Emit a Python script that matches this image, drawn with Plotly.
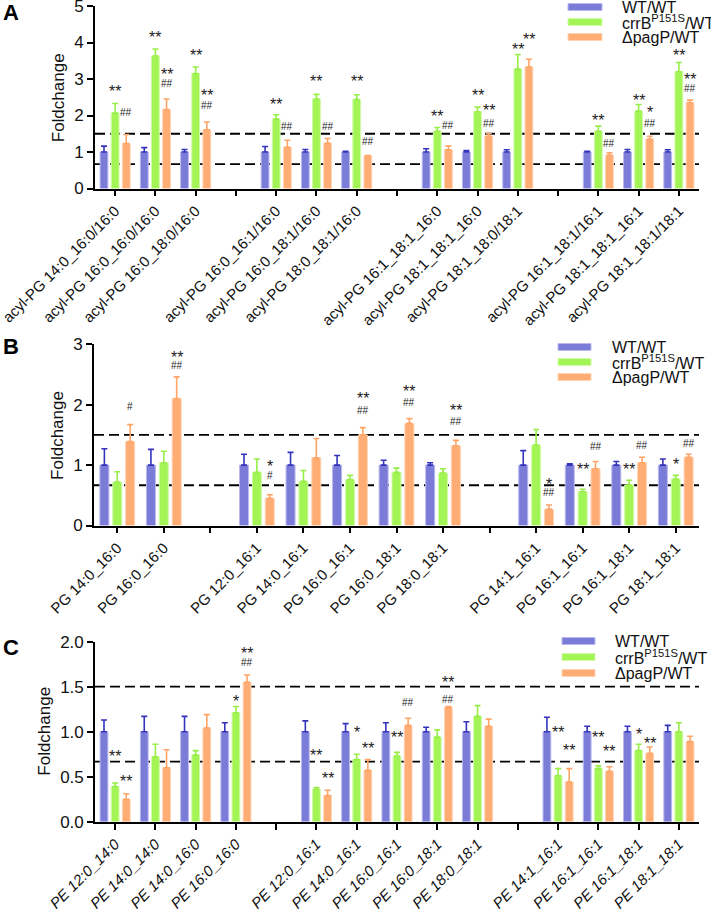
import plotly.graph_objects as go

# ---- panel A: acyl-PG ----
A_labels = ["acyl-PG 14:0_16:0/16:0", "acyl-PG 16:0_16:0/16:0", "acyl-PG 16:0_18:0/16:0", "",
            "acyl-PG 16:0_16:1/16:0", "acyl-PG 16:0_18:1/16:0", "acyl-PG 18:0_18:1/16:0", "",
            "acyl-PG 16:1_18:1_16:0", "acyl-PG 18:1_18:1_16:0", "acyl-PG 18:1_18:0/18:1", "",
            "acyl-PG 16:1_18:1/16:1", "acyl-PG 18:1_18:1_16:1", "acyl-PG 18:1_18:1/18:1"]
A_wt = [1, 1, 1, None, 1, 1, 1, None, 1, 1, 1, None, 1, 1, 1]
A_wt_err = [0.16, 0.12, 0.07, None, 0.15, 0.07, 0.02, None, 0.09, 0.04, 0.06, None, 0.02, 0.07, 0.06]
A_crr = [2.07, 3.63, 3.15, None, 1.9, 2.45, 2.44, None, 1.57, 2.1, 3.27, None, 1.57, 2.12, 3.2]
A_crr_err = [0.26, 0.19, 0.18, None, 0.12, 0.13, 0.13, None, 0.1, 0.13, 0.4, None, 0.14, 0.18, 0.25]
A_pag = [1.23, 2.16, 1.61, None, 1.13, 1.24, 0.89, None, 1.06, 1.43, 3.33, None, 0.91, 1.35, 2.35]
A_pag_err = [0.25, 0.29, 0.21, None, 0.19, 0.13, 0.01, None, 0.1, 0.07, 0.21, None, 0.07, 0.08, 0.07]
# (slot, series 1=crrB 2=pagP, height, mark)
A_marks = [(0, 1, 2.77, "**"), (0, 2, 2.07, "##"),
           (1, 1, 4.25, "**"), (1, 2, 3.22, "**"), (1, 2, 2.88, "##"),
           (2, 1, 3.74, "**"), (2, 2, 2.65, "**"), (2, 2, 2.28, "##"),
           (4, 1, 2.42, "**"), (4, 2, 1.70, "##"),
           (5, 1, 3.03, "**"), (5, 2, 1.70, "##"),
           (6, 1, 3.03, "**"), (6, 2, 1.30, "##"),
           (8, 1, 2.08, "**"), (8, 2, 1.73, "##"),
           (9, 1, 2.65, "**"), (9, 2, 2.25, "**"), (9, 2, 1.79, "##"),
           (10, 1, 3.93, "**"), (10, 2, 4.2, "**"),
           (12, 1, 1.98, "**"), (12, 2, 1.23, "##"),
           (13, 1, 2.53, "**"), (13, 2, 2.19, "*"), (13, 2, 1.79, "##"),
           (14, 1, 3.74, "**"), (14, 2, 3.1, "**"), (14, 2, 2.74, "##")]

# ---- panel B: PG ----
B_labels = ["PG 14:0_16:0", "PG 16:0_16:0", "",
            "PG 12:0_16:1", "PG 14:0_16:1", "PG 16:0_16:1", "PG 16:0_18:1", "PG 18:0_18:1", "",
            "PG 14:1_16:1", "PG 16:1_16:1", "PG 16:1_18:1", "PG 18:1_18:1"]
B_wt = [1, 1, None, 1, 1, 1, 1, 1, None, 1, 1, 1, 1]
B_wt_err = [0.27, 0.26, None, 0.18, 0.21, 0.16, 0.08, 0.04, None, 0.24, 0.02, 0.06, 0.1]
B_crr = [0.72, 1.04, None, 0.88, 0.73, 0.76, 0.88, 0.87, None, 1.33, 0.56, 0.67, 0.77]
B_crr_err = [0.17, 0.19, None, 0.22, 0.18, 0.07, 0.07, 0.07, None, 0.26, 0.04, 0.08, 0.06]
B_pag = [1.39, 2.1, None, 0.45, 1.12, 1.5, 1.69, 1.32, None, 0.27, 0.94, 1.04, 1.13]
B_pag_err = [0.28, 0.36, None, 0.06, 0.32, 0.12, 0.08, 0.09, None, 0.07, 0.12, 0.09, 0.05]
B_marks = [(0, 2, 1.97, "#"),
           (1, 2, 2.85, "**"), (1, 2, 2.65, "##"),
           (3, 2, 1.05, "*"), (3, 2, 0.83, "#"),
           (5, 2, 2.17, "**"), (5, 2, 1.9, "##"),
           (6, 2, 2.29, "**"), (6, 2, 2.03, "##"),
           (7, 2, 1.97, "**"), (7, 2, 1.72, "##"),
           (9, 2, 0.75, "*"), (9, 2, 0.54, "##"),
           (10, 1, 1.0, "**"), (10, 2, 1.3, "##"),
           (11, 1, 1.0, "**"), (11, 2, 1.33, "##"),
           (12, 1, 1.08, "*"), (12, 2, 1.36, "##")]

# ---- panel C: PE ----
C_labels = ["PE 12:0_14:0", "PE 14:0_14:0", "PE 14:0_16:0", "PE 16:0_16:0", "",
            "PE 12:0_16:1", "PE 14:0_16:1", "PE 16:0_16:1", "PE 16:0_18:1", "PE 18:0_18:1", "",
            "PE 14:1_16:1", "PE 16:1_16:1", "PE 16:1_18:1", "PE 18:1_18:1"]
C_wt = [1, 1, 1, 1, None, 1, 1, 1, 1, 1, None, 1, 1, 1, 1]
C_wt_err = [0.13, 0.17, 0.17, 0.1, None, 0.12, 0.09, 0.1, 0.05, 0.11, None, 0.16, 0.06, 0.06, 0.07]
C_crr = [0.39, 0.72, 0.74, 1.21, None, 0.36, 0.69, 0.73, 0.94, 1.17, None, 0.51, 0.59, 0.79, 1.0]
C_crr_err = [0.04, 0.14, 0.05, 0.07, None, 0.02, 0.06, 0.04, 0.08, 0.12, None, 0.08, 0.03, 0.07, 0.1]
C_pag = [0.25, 0.6, 1.04, 1.55, None, 0.29, 0.57, 1.07, 1.27, 1.06, None, 0.44, 0.56, 0.76, 0.89]
C_pag_err = [0.06, 0.2, 0.15, 0.08, None, 0.06, 0.12, 0.08, 0.01, 0.08, None, 0.15, 0.05, 0.07, 0.06]
C_marks = [(0, 1, 0.77, "**"), (0, 2, 0.49, "**"),
           (3, 1, 1.38, "*"), (3, 2, 1.91, "**"), (3, 2, 1.77, "##"),
           (5, 1, 0.78, "**"), (5, 2, 0.53, "**"),
           (6, 1, 1.04, "*"), (6, 2, 0.86, "**"),
           (7, 1, 0.98, "**"), (7, 2, 1.32, "##"),
           (8, 2, 1.59, "**"), (8, 2, 1.36, "##"),
           (11, 1, 1.04, "**"), (11, 2, 0.84, "**"),
           (12, 1, 0.98, "**"), (12, 2, 0.83, "**"),
           (13, 1, 1.01, "*"), (13, 2, 0.91, "**")]

series_names = ["WT/WT", "crrB<sup>P151S</sup>/WT", "ΔpagP/WT"]
fills = ["#7b7bd8", "#a2f555", "#ffad74"]
edges = ["#b9b9ef", "#d2fba8", "#ffd4b4"]
err_cols = ["#3333bb", "#96ee46", "#ffa465"]

W, H = 711, 917
FONT = "Arial, Liberation Sans, sans-serif"
BARGAP = 0.17
OFF = (1 - BARGAP) / 3


def px_x(v):
    return v / W


def px_y(v):
    return 1 - v / H


# pixel geometry of each panel: (x0, x1, y_bottom, y_top)
panels = [
    dict(labels=A_labels, vals=[A_wt, A_crr, A_pag], errs=[A_wt_err, A_crr_err, A_pag_err],
         marks=A_marks, yr=[0, 5], dtick=1, fmt="d", box=(95, 699, 188.5, 6),
         letter="A", letter_y=12, lab_x=58, leg=(568, 602, [7, 22, 37], 620), italic=False),
    dict(labels=B_labels, vals=[B_wt, B_crr, B_pag], errs=[B_wt_err, B_crr_err, B_pag_err],
         marks=B_marks, yr=[0, 3], dtick=1, fmt="d", box=(94, 699, 525.5, 344.3),
         letter="B", letter_y=346.5, lab_x=58, leg=(558, 591, [347, 362, 377], 610), italic=False),
    dict(labels=C_labels, vals=[C_wt, C_crr, C_pag], errs=[C_wt_err, C_crr_err, C_pag_err],
         marks=C_marks, yr=[0, 2], dtick=0.5, fmt=".1f", box=(95, 699, 821.7, 641.7),
         letter="C", letter_y=647, lab_x=45, leg=(562, 595, [641, 657, 673], 613), italic=True),
]

fig = go.Figure()
layout = dict(width=W, height=H, autosize=False, margin=dict(l=0, r=0, t=0, b=0, autoexpand=False),
              paper_bgcolor="white", plot_bgcolor="white", showlegend=False,
              barmode="group", bargap=BARGAP, bargroupgap=0.3,
              font=dict(family=FONT, color="#111"))
shapes = []
annots = []

for p_i, p in enumerate(panels):
    sfx = "" if p_i == 0 else str(p_i + 1)
    xa, ya = "x" + sfx, "y" + sfx
    n = len(p["labels"])
    slots = list(range(n))
    x0, x1, yb, yt = p["box"]

    for k in range(3):
        fig.add_trace(go.Bar(
            x=slots, y=p["vals"][k], name=series_names[k], xaxis=xa, yaxis=ya,
            marker=dict(color=fills[k], line=dict(color=edges[k], width=1)),
            error_y=dict(type="data", array=p["errs"][k], arrayminus=[0] * n, symmetric=False,
                         color=err_cols[k], thickness=1.6, width=3),
            hoverinfo="skip",
        ))

    ticktext = [("<i>%s</i>" % t if (p["italic"] and t) else t) for t in p["labels"]]
    layout["xaxis" + sfx] = dict(
        domain=[px_x(x0), px_x(x1)], anchor=ya, range=[-0.5, n - 0.5], automargin=False,
        ticklabeloverflow="allow",
        tickmode="array", tickvals=slots, ticktext=ticktext, tickangle=-45,
        ticks="outside", ticklen=6, tickwidth=1.6, tickcolor="black",
        showline=True, linecolor="black", linewidth=1.6, showgrid=False, zeroline=False,
        tickfont=dict(size=15, family=FONT, color="#111"),
    )
    layout["yaxis" + sfx] = dict(
        domain=[px_y(yb), px_y(yt)], anchor=xa, range=p["yr"], dtick=p["dtick"], automargin=False,
        ticklabeloverflow="allow",
        tickformat=p["fmt"], ticks="outside", ticklen=6, tickwidth=1.6, tickcolor="black",
        showline=True, linecolor="black", linewidth=1.6, showgrid=False, zeroline=False,
        tickfont=dict(size=17, family=FONT, color="#111"),
    )

    # threshold lines at 1.5 and 1/1.5
    for lv in [1.5, 1 / 1.5]:
        shapes.append(dict(type="line", xref=xa, yref=ya, x0=-0.5, x1=n - 0.5, y0=lv, y1=lv,
                           line=dict(color="black", width=1.8, dash="10px,5px"), layer="below"))

    # significance marks
    for slot, k, yv, txt in p["marks"]:
        star = "*" in txt
        annots.append(dict(x=slot + (k - 1) * OFF, y=yv, xref=xa, yref=ya, text=txt,
                           showarrow=False, xanchor="center", yanchor="middle",
                           yshift=-4 if star else 0,
                           font=dict(size=16 if star else 10, family=FONT, color="#222")))

    # panel letter
    annots.append(dict(x=px_x(1), y=px_y(p["letter_y"]), xref="paper", yref="paper",
                       text="<b>%s</b>" % p["letter"],
                       showarrow=False, xanchor="left", yanchor="middle",
                       font=dict(size=22, family=FONT, color="black")))
    # y title
    annots.append(dict(x=px_x(p["lab_x"]), y=px_y((yb + yt) / 2), xref="paper", yref="paper",
                       text="Foldchange", textangle=-90, showarrow=False,
                       xanchor="center", yanchor="middle",
                       font=dict(size=17, family=FONT, color="#111")))

    # legend
    lx0, lx1, lys, ltx = p["leg"]
    for k in range(3):
        shapes.append(dict(type="rect", xref="paper", yref="paper",
                           x0=px_x(lx0), x1=px_x(lx1), y0=px_y(lys[k] + 3.5), y1=px_y(lys[k] - 3.5),
                           fillcolor=fills[k], line=dict(color=edges[k], width=1)))
        annots.append(dict(x=px_x(ltx), y=px_y(lys[k]), xref="paper", yref="paper",
                           text=series_names[k], showarrow=False, xanchor="left", yanchor="middle",
                           font=dict(size=16, family=FONT, color="#111")))

layout["shapes"] = shapes
layout["annotations"] = annots
fig.update_layout(**layout)

fig.write_html("out.html", config={"displayModeBar": False},
               post_script="document.body.style.margin='0px';")
